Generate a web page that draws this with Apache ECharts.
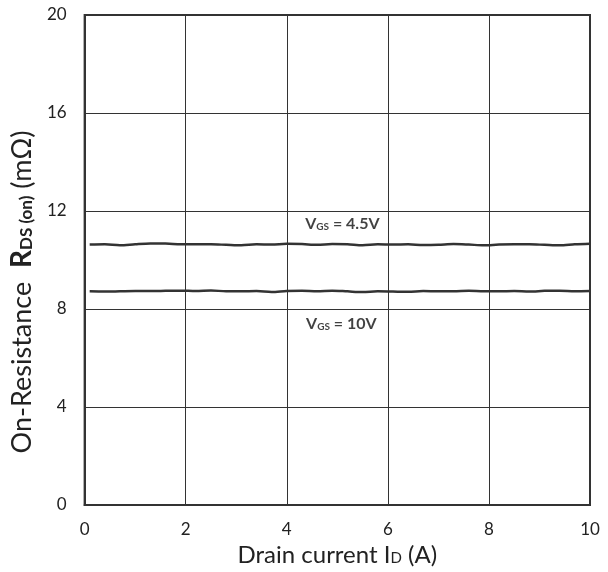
<!DOCTYPE html>
<html><head><meta charset="utf-8">
<script src="https://cdn.jsdelivr.net/npm/echarts@6/dist/echarts.min.js"></script>
<style>html,body{margin:0;padding:0;background:#fff}#c{width:608px;height:572px}</style>
</head><body><div id="c"></div>
<script>
const xValues = [0.1,0.4,0.7,1.0,1.3,1.6,1.9,2.2,2.5,2.8,3.1,3.4,3.7,4.0,4.3,4.6,4.9,5.2,5.5,5.8,6.1,6.4,6.7,7.0,7.3,7.6,7.9,8.2,8.5,8.8,9.1,9.4,9.7,10.0];
const rdsVgs45 = [10.63,10.64,10.60,10.64,10.67,10.67,10.64,10.64,10.64,10.62,10.60,10.64,10.63,10.66,10.65,10.62,10.65,10.64,10.60,10.64,10.63,10.64,10.61,10.62,10.65,10.63,10.60,10.63,10.64,10.64,10.62,10.60,10.64,10.66];
const rdsVgs10 = [8.72,8.71,8.72,8.73,8.73,8.74,8.75,8.73,8.76,8.72,8.72,8.73,8.69,8.73,8.74,8.72,8.75,8.72,8.69,8.72,8.71,8.70,8.73,8.72,8.72,8.74,8.72,8.72,8.73,8.71,8.74,8.75,8.72,8.73];
const xTicks = [0,2,4,6,8,10];
const yTicks = [0,4,8,12,16,20];
const labels = [
  {text:'{v|V}{s|GS}{v| = 4.5V}', x:5.1, y:11.47},
  {text:'{v|V}{s|GS}{v| = 10V}', x:5.08, y:7.39}
];
const font = 'Lato, "Open Sans", sans-serif';
const labelRich = {
  v:{fontFamily:font,fontWeight:'bold',fontSize:16,color:'#111'},
  s:{fontFamily:font,fontWeight:'bold',fontSize:10,color:'#111',padding:[5,0,0,0]}
};
const chart = echarts.init(document.getElementById('c'));
chart.setOption({
  animation:false,
  backgroundColor:'#fff',
  grid:{left:84,right:18,top:15,bottom:67,show:true,borderColor:'#333',borderWidth:2},
  xAxis:{
    type:'value',min:xTicks[0],max:xTicks[xTicks.length-1],interval:2,
    name:'{n|Drain current I}{s|D}{n| (A)}',nameLocation:'middle',nameGap:36,
    nameTextStyle:{rich:{n:{fontFamily:font,fontSize:24,color:'#222'},s:{fontFamily:font,fontSize:15,color:'#222',padding:[7,0,0,0]}}},
    axisLine:{show:true,lineStyle:{color:'#333',width:2}},
    axisTick:{show:false},
    axisLabel:{fontFamily:font,fontSize:17,color:'#222',margin:16},
    splitLine:{show:true,lineStyle:{color:'#333',width:1}}
  },
  yAxis:{
    type:'value',min:yTicks[0],max:yTicks[yTicks.length-1],interval:4,
    name:'{n|On-Resistance  }{b|R}{s|DS (on)}{n| (mΩ)}',nameLocation:'middle',nameGap:45,nameRotate:90,
    nameTextStyle:{padding:[0,64,0,0],rich:{
      n:{fontFamily:font,fontSize:27,color:'#222'},
      b:{fontFamily:font,fontSize:28,fontWeight:'bold',color:'#222'},
      s:{fontFamily:font,fontSize:17,fontWeight:'bold',color:'#222',padding:[10,0,0,0]}
    }},
    axisLine:{show:true,lineStyle:{color:'#333',width:2}},
    axisTick:{show:false},
    axisLabel:{fontFamily:font,fontSize:17,color:'#222',margin:18},
    splitLine:{show:true,lineStyle:{color:'#333',width:1}}
  },
  series:[
    {type:'line',name:'VGS=4.5V',data:xValues.map((x,i)=>[x,rdsVgs45[i]]),showSymbol:false,smooth:0.3,
     lineStyle:{color:'#333',width:2.5}},
    {type:'line',name:'VGS=10V',data:xValues.map((x,i)=>[x,rdsVgs10[i]]),showSymbol:false,smooth:0.3,
     lineStyle:{color:'#333',width:2.5}},
    {type:'scatter',data:labels.map(l=>({value:[l.x,l.y],label:{formatter:l.text}})),symbolSize:0,silent:true,
     label:{show:true,position:'inside',rich:labelRich}}
  ]
});
</script></body></html>
